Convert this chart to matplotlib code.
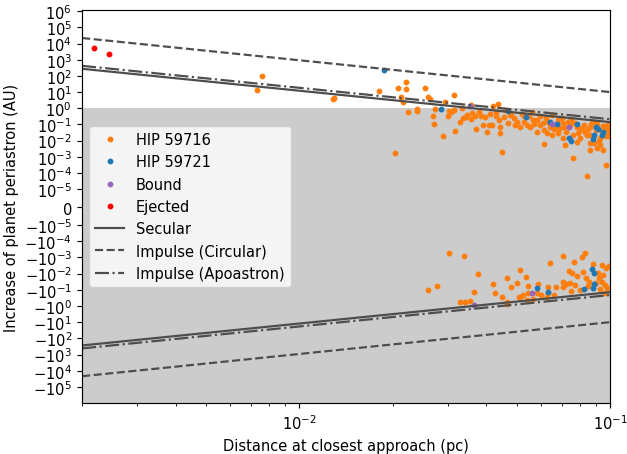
import matplotlib
matplotlib.use("Agg")
import matplotlib.pyplot as plt
from matplotlib.ticker import FixedLocator, NullLocator

# distance at closest approach (pc) and periastron change (AU)
hip16_x = [0.0076, 0.00733, 0.0128, 0.0129,
           0.0181, 0.0221, 0.0221, 0.0207, 0.0254, 0.0212, 0.0215, 0.0259, 0.0263, 0.0314,
           0.0223, 0.024, 0.024, 0.0273, 0.0294, 0.027, 0.0272, 0.0301, 0.0303, 0.0315,
           0.029, 0.0318, 0.0203, 0.033, 0.0337, 0.0345, 0.0347, 0.0358, 0.0333, 0.0369,
           0.039, 0.0402, 0.0367, 0.0383, 0.0397, 0.0307, 0.0356, 0.0407,
           0.0437, 0.0421, 0.046, 0.0561, 0.0431, 0.0454, 0.0489, 0.0496, 0.0443, 0.0443,
           0.0417, 0.0527, 0.054, 0.0566, 0.0596, 0.0611, 0.0626, 0.0615, 0.065, 0.0584,
           0.0681, 0.0706, 0.0715, 0.076, 0.0758, 0.078, 0.08, 0.084, 0.086, 0.0859,
           0.093, 0.095, 0.084, 0.097, 0.0448, 0.065, 0.063, 0.0706, 0.0744, 0.078,
           0.0822, 0.086, 0.09, 0.096, 0.098, 0.086, 0.093, 0.08, 0.067, 0.0681,
           0.0596, 0.0554, 0.0514, 0.047, 0.0478, 0.0527,
           0.099, 0.097, 0.095, 0.085, 0.083, 0.079, 0.072, 0.069, 0.066, 0.061,
           0.057, 0.05, 0.044, 0.092, 0.089, 0.0905, 0.091, 0.088, 0.075, 0.07,
           0.036, 0.038, 0.041, 0.043, 0.048, 0.052, 0.055, 0.058, 0.062, 0.064,
           0.068, 0.071, 0.073, 0.077, 0.081, 0.087, 0.094, 0.098, 0.0995,
           # negative side
           0.0303, 0.0338, 0.026, 0.0278, 0.0376, 0.0366, 0.0419, 0.0425, 0.0449, 0.0465,
           0.048, 0.05, 0.0513, 0.0536, 0.051, 0.0526, 0.0545, 0.0586, 0.063, 0.0643,
           0.067, 0.0703, 0.0705, 0.074, 0.0755, 0.0766, 0.078, 0.0744, 0.077, 0.0815,
           0.083, 0.082, 0.0837, 0.0857, 0.088, 0.094, 0.095, 0.094, 0.096, 0.0915,
           0.097, 0.099, 0.093, 0.063, 0.0583, 0.0545, 0.0514, 0.0467, 0.033, 0.0342,
           0.0355, 0.054, 0.0566, 0.0625, 0.066, 0.0706, 0.0723, 0.0467,
           0.08, 0.085, 0.09, 0.092, 0.096, 0.098, 0.075, 0.06]
hip16_y = [98, 13, 3.7, 4.6,
           11.2, 42, 15, 17, 19, 5.3, 2.45, 5, 3.7, 7,
           0.63, 0.9, 0.72, 0.87, 2.6, 0.32, 0.1, 0.35, 0.68, 0.79,
           0.019, 0.042, 0.0017, 0.15, 0.24, 0.27, 0.39, 1.6, 1.1, 0.053,
           0.093, 0.033, 0.33, 0.31, 0.27, 0.63, 0.22, 0.093,
           1.85, 1.4, 0.79, 0.63, 0.31, 0.27, 0.24, 0.093, 0.074, 0.029,
           0.093, 0.15, 0.093, 0.19, 0.093, 0.046, 0.029, 0.006, 0.022, 0.036,
           0.046, 0.014, 0.005, 0.022, 0.0009, 0.0088, 0.046, 0.022, 0.007, 0.0027,
           0.0054, 0.0027, 6.6e-5, 2.9e-4, 0.0019, 0.39, 0.15, 0.12, 0.093, 0.074,
           0.093, 0.074, 0.046, 0.058, 0.093, 0.022, 0.014, 0.014, 0.093, 0.19,
           0.31, 0.074, 0.074, 0.12, 0.39, 0.31,
           0.03, 0.02, 0.08, 0.05, 0.035, 0.03, 0.035, 0.06, 0.05, 0.12,
           0.1, 0.15, 0.2, 0.01, 0.007, 0.0035, 0.11, 0.15, 0.2, 0.25,
           0.5, 0.6, 0.45, 0.55, 0.5, 0.45, 0.35, 0.2, 0.25, 0.07,
           0.03, 0.07, 0.15, 0.12, 0.06, 0.1, 0.04, 0.05, 0.02,
           -5.6e-4, -7.6e-4, -0.1, -0.057, -0.011, -0.135, -0.046, -0.15, -0.28, -0.018,
           -0.066, -0.037, -0.0064, -0.016, -0.28, -0.22, -0.057, -0.041, -0.066, -0.0021,
           -0.066, -8.3e-4, -0.032, -0.007, -0.0098, -0.0018, -0.014, -0.036, -0.052, -9.1e-4,
           -5e-4, -0.0078, -0.02, -0.032, -0.0027, -0.003, -0.0125, -0.032, -0.052, -0.0098,
           -0.0048, -0.0033, -0.084, -0.15, -0.15, -0.15, -0.28, -0.56, -0.56, -0.56,
           -0.52, -0.45, -0.35, -0.28, -0.22, -0.066, -0.041, -0.72,
           -0.1, -0.06, -0.04, -0.02, -0.15, -0.08, -0.12, -0.2]

hip21_x = [0.0187, 0.0285, 0.047, 0.0537, 0.064, 0.0673, 0.078, 0.0735, 0.075, 0.090,
           0.0915, 0.095, 0.089, 0.088, 0.094,
           0.0584, 0.063, 0.0874, 0.089, 0.0826, 0.089, 0.088]
hip21_y = [222, 0.9, 0.72, 0.27, 0.14, 0.1, 0.1, 0.014, 0.01, 0.067,
           0.053, 0.036, 0.021, 0.013, 0.021,
           -0.076, -0.13, -0.0055, -0.0089, -0.084, -0.046, -0.076]

bound_x = [0.0354, 0.065, 0.0738, 0.056, 0.0364]
bound_y = [1.4, 0.107, 0.067, -0.15, -0.92]

eject_x = [0.00219, 0.00244]
eject_y = [5000, 2240]

# analytic estimates, value at the two ends of the x range
line_x = [0.002, 0.1]
secular = [275, 0.14]
impulse_circ = [2.2e4, 10]
impulse_apo = [420, 0.21]

dpi = 105
fig = plt.figure(figsize=(627 / dpi, 455 / dpi), dpi=dpi)
ax = fig.add_axes([0.131, 0.112, 0.842, 0.864])

ax.axhspan(-1e6, 1, color="0.8", zorder=0, lw=0)

ax.plot(hip16_x, hip16_y, ".", color="#ff7f0e", label="HIP 59716")
ax.plot(hip21_x, hip21_y, ".", color="#1f77b4", label="HIP 59721")
ax.plot(bound_x, bound_y, ".", color="#9467bd", label="Bound")
ax.plot(eject_x, eject_y, ".", color="red", label="Ejected")

lc = "0.3"
ax.plot(line_x, secular, "-", color=lc, label="Secular")
ax.plot(line_x, impulse_circ, "--", color=lc, label="Impulse (Circular)")
ax.plot(line_x, impulse_apo, "-.", color=lc, label="Impulse (Apoastron)")
ax.plot(line_x, [-v for v in secular], "-", color=lc)
ax.plot(line_x, [-v for v in impulse_circ], "--", color=lc)
ax.plot(line_x, [-v for v in impulse_apo], "-.", color=lc)

ax.set_xscale("log")
ax.set_yscale("symlog", linthresh=1e-5, linscale=1)
ax.set_xlim(0.002, 0.1)
ax.set_ylim(-1e6, 1.2e6)

ticks = [-10.0**k for k in range(5, -6, -1)] + [0] + [10.0**k for k in range(-5, 7)]
ax.yaxis.set_major_locator(FixedLocator(ticks))
ax.yaxis.set_minor_locator(NullLocator())

ax.set_xlabel("Distance at closest approach (pc)")
ax.set_ylabel("Increase of planet periastron (AU)")
ax.legend(loc="center left")

fig.savefig("out.png", dpi=dpi)
